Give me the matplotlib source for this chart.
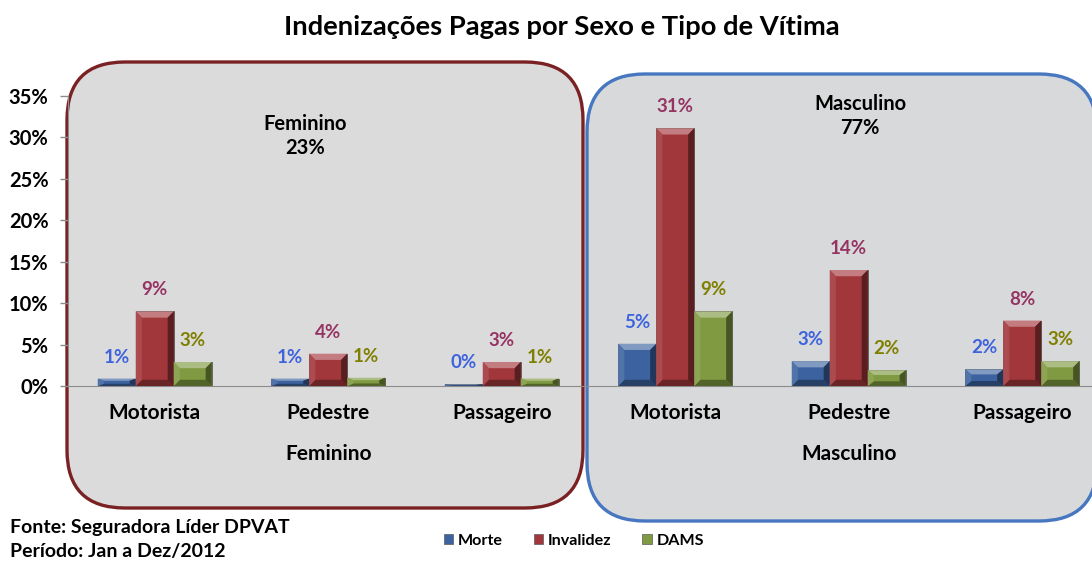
import matplotlib
matplotlib.use('Agg')
import matplotlib.pyplot as plt
import matplotlib.colors as mcolors
from matplotlib.patches import FancyBboxPatch, Polygon, Patch
import numpy as np

# dados (% do total de indenizações pagas)
tipos = ['Motorista', 'Pedestre', 'Passageiro']
sexos = ['Feminino', 'Masculino']
series = ['Morte', 'Invalidez', 'DAMS']
morte = [0.9, 0.9, 0.2, 5.1, 3.0, 2.0]
invalidez = [9.0, 3.9, 2.9, 31.1, 14.0, 7.9]
dams = [2.9, 1.0, 0.9, 9.0, 1.9, 3.0]
yticks = [0, 5, 10, 15, 20, 25, 30, 35]

bar_colors = ['#3c63a0', '#a2373b', '#7f9a40']
label_colors = ['#3d63dd', '#953463', '#7f7f00']

plt.rcParams['font.family'] = ['Lato', 'DejaVu Sans']
plt.rcParams['font.weight'] = 'bold'

W, H = 1092, 562
fig = plt.figure(figsize=(W / 100, H / 100), dpi=100)

# fundo em pixels: caixas arredondadas
bg = fig.add_axes([0, 0, 1, 1], zorder=0)
bg.set_xlim(0, W)
bg.set_ylim(H, 0)
bg.set_axis_off()
bg.add_patch(FancyBboxPatch((67, 62), 516, 446, boxstyle='round,pad=0,rounding_size=58',
                            fc='#dcdbdc', ec='#7a2124', lw=2.4))
bg.add_patch(FancyBboxPatch((587, 74), 510, 447, boxstyle='round,pad=0,rounding_size=58',
                            fc='#d8d9db', ec='#4677c0', lw=2.4))

ax = fig.add_axes([68 / W, (H - 386) / H, 1041 / W, 290 / H], zorder=1)
ax.patch.set_alpha(0)


def mix(c, other, t):
    a = np.array(mcolors.to_rgb(c))
    b = np.array(mcolors.to_rgb(other))
    return tuple(a * (1 - t) + b * t)


def bevel(ax, rect, color):
    x, w, h = rect.get_x(), rect.get_width(), rect.get_height()
    if h <= 0:
        return
    bx = w * 0.16
    by = min(h * 0.3, 0.75)
    faces = [
        ([(x, h), (x + w, h), (x + w - bx, h - by), (x + bx, h - by)], mix(color, 'white', 0.35)),
        ([(x, 0), (x + w, 0), (x + w - bx, by), (x + bx, by)], mix(color, 'black', 0.35)),
        ([(x, 0), (x, h), (x + bx, h - by), (x + bx, by)], mix(color, 'white', 0.1)),
        ([(x + w, 0), (x + w, h), (x + w - bx, h - by), (x + w - bx, by)], mix(color, 'black', 0.45)),
    ]
    for pts, fc in faces:
        ax.add_patch(Polygon(pts, closed=True, fc=fc, ec='none', zorder=3))


x = np.arange(len(morte))
bw = 0.219
for i, (vals, col, lcol) in enumerate(zip([morte, invalidez, dams], bar_colors, label_colors)):
    bars = ax.bar(x + (i - 1) * bw, vals, bw, color=col, edgecolor='#5a5a5a',
                  linewidth=0.6, zorder=2, label=series[i])
    for b, v in zip(bars, vals):
        bevel(ax, b, col)
        ax.annotate(f'{v:.0f}%', (b.get_x() + b.get_width() / 2, v), xytext=(0, 15.5),
                    textcoords='offset points', ha='center', va='center',
                    color=lcol, fontsize=13.5, fontweight='bold')

ax.set_xlim(-0.5, 5.5)
ax.set_ylim(0, 35)
ax.set_yticks(yticks)
ax.set_yticklabels([f'{t}%' for t in yticks], fontsize=14.5, fontweight='bold')
ax.tick_params(axis='y', direction='out', length=6, color='#8c8c8c', width=1, pad=8)
ax.set_xticks(x)
ax.set_xticklabels(tipos * 2, fontsize=15, fontweight='bold')
ax.tick_params(axis='x', length=0, pad=12)
for s in ['top', 'right']:
    ax.spines[s].set_visible(False)
ax.spines['left'].set_color('#8c8c8c')
ax.spines['bottom'].set_color('#8c8c8c')

# rótulos de grupo abaixo das categorias
for g, sexo in enumerate(sexos):
    ax.text(g * 3 + 1, -8.2, sexo, ha='center', va='center', fontsize=15, fontweight='bold',
            transform=ax.transData, clip_on=False)

# participação por sexo
totais = [sum(morte[g*3:g*3+3]) + sum(invalidez[g*3:g*3+3]) + sum(dams[g*3:g*3+3]) for g in range(2)]
bg.text(305, 136, f'{sexos[0]}\n{totais[0]:.0f}%', ha='center', va='center', fontsize=14.5,
        fontweight='bold', linespacing=1.3)
bg.text(860, 116, f'{sexos[1]}\n{totais[1]:.0f}%', ha='center', va='center', fontsize=14.5,
        fontweight='bold', linespacing=1.3)

fig.text(562 / W, 1 - 27 / H, 'Indenizações Pagas por Sexo e Tipo de Vítima', ha='center',
         va='center', fontsize=19.7, fontweight='bold')
fig.text(10 / W, 1 - 527 / H, 'Fonte: Seguradora Líder DPVAT', ha='left', va='center',
         fontsize=14, fontweight='bold')
fig.text(10 / W, 1 - 551 / H, 'Período: Jan a Dez/2012', ha='left', va='center',
         fontsize=14, fontweight='bold')

handles = [Patch(fc=c, ec='#5a5a5a', lw=0.5) for c in bar_colors]
fig.legend(handles, series, loc='center', bbox_to_anchor=(574 / W, 1 - 541 / H), ncol=3,
           frameon=False, fontsize=11.6, handlelength=0.6, handleheight=0.6,
           handletextpad=0.3, columnspacing=1.9)

fig.savefig('out.png', dpi=100)
